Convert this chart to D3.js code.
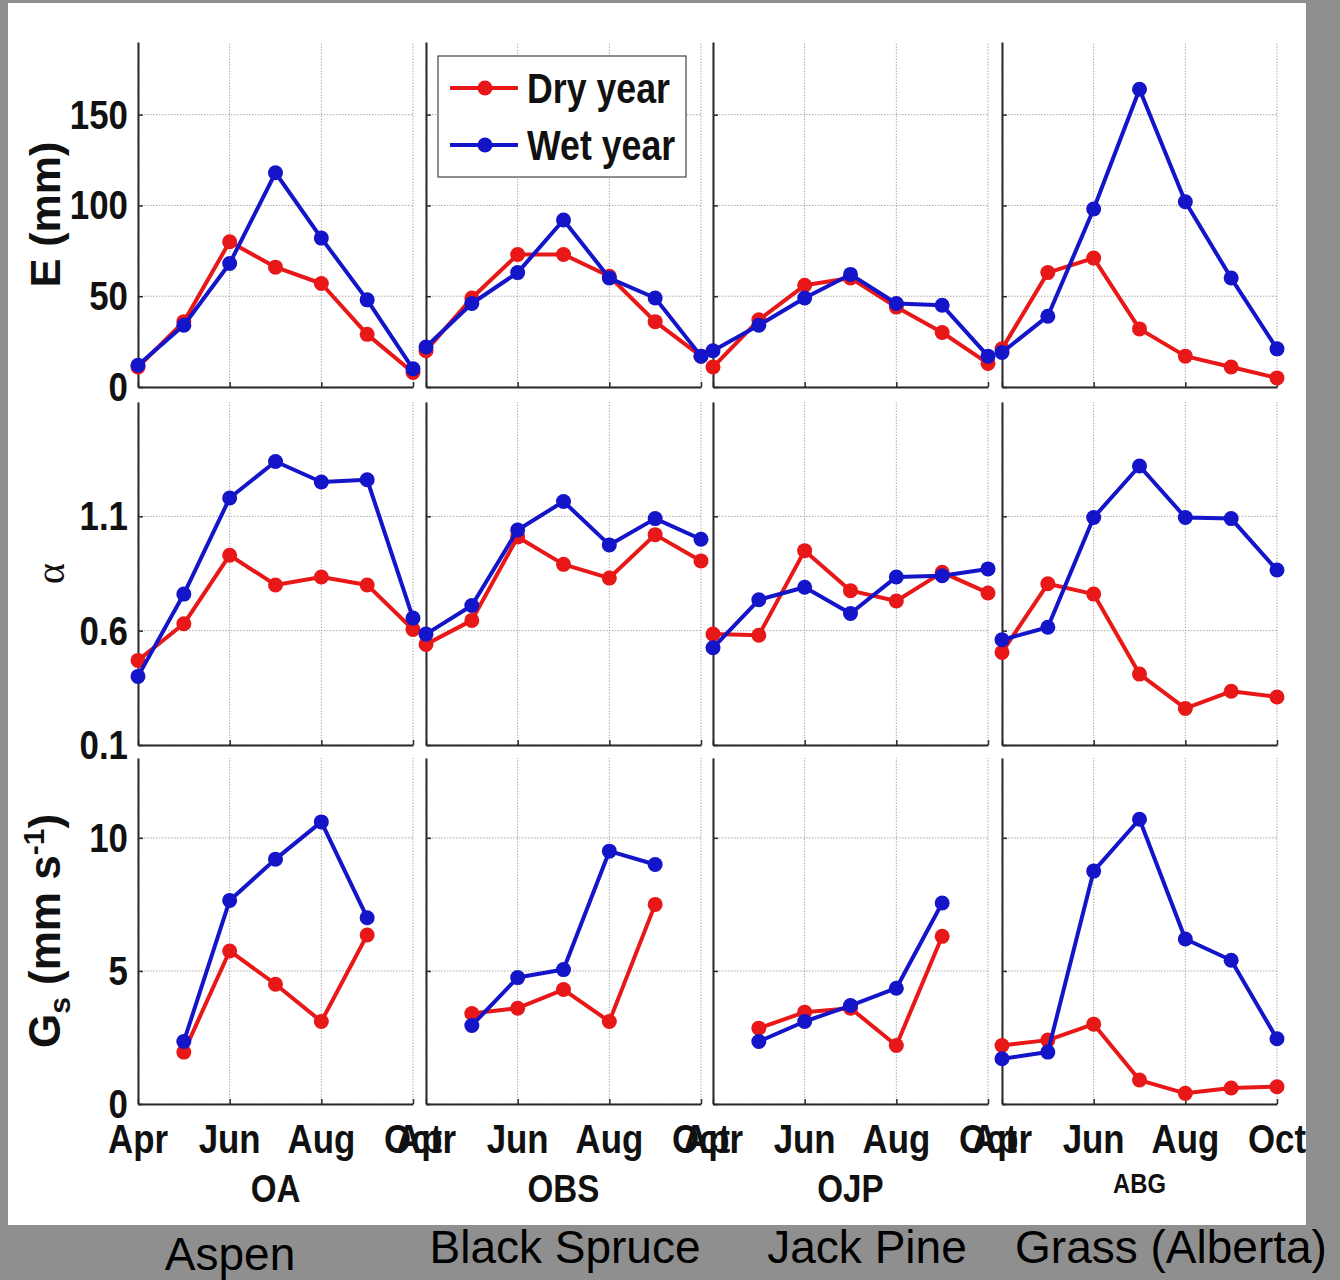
<!DOCTYPE html>
<html>
<head>
<meta charset="utf-8">
<script src="https://cdn.jsdelivr.net/npm/d3@7"></script>
<style>
body { margin: 0; background: #8f8f8f; }
svg { display: block; }
</style>
</head>
<body>
<div id="chart"></div>
<script>
// ---- data ----
var months = ["Apr", "May", "Jun", "Jul", "Aug", "Sep", "Oct"];
var monthNum = [4, 5, 6, 7, 8, 9, 10];
var xTickValues = [4, 6, 8, 10];
var xTickLabels = ["Apr", "Jun", "Aug", "Oct"];
var sites = ["OA", "OBS", "OJP", "ABG"];
var siteNames = ["Aspen", "Black Spruce", "Jack Pine", "Grass (Alberta)"];
var seriesNames = ["Dry year", "Wet year"];

// E (mm), one row per site
var eDry = [
    [11, 36, 80, 66, 57, 29, 8],
    [20, 49, 73, 73, 61, 36, 17],
    [11, 37, 56, 60, 44, 30, 13],
    [21, 63, 71, 32, 17, 11, 5]
];
var eWet = [
    [12, 34, 68, 118, 82, 48, 10],
    [22, 46, 63, 92, 60, 49, 17],
    [20, 34, 49, 62, 46, 45, 17],
    [19, 39, 98, 164, 102, 60, 21]
];
// alpha
var alphaDry = [
    [0.47, 0.63, 0.93, 0.80, 0.835, 0.80, 0.605],
    [0.54, 0.645, 1.01, 0.89, 0.83, 1.02, 0.905],
    [0.585, 0.58, 0.95, 0.775, 0.73, 0.855, 0.765],
    [0.505, 0.805, 0.76, 0.41, 0.26, 0.335, 0.31]
];
var alphaWet = [
    [0.40, 0.76, 1.18, 1.34, 1.25, 1.26, 0.655],
    [0.585, 0.71, 1.04, 1.165, 0.975, 1.09, 1.0],
    [0.525, 0.735, 0.79, 0.675, 0.835, 0.84, 0.87],
    [0.56, 0.615, 1.095, 1.32, 1.095, 1.09, 0.865]
];
// Gs (mm s-1), null = no value
var gsDry = [
    [null, 1.95, 5.75, 4.5, 3.1, 6.35, null],
    [null, 3.4, 3.6, 4.3, 3.1, 7.5, null],
    [null, 2.85, 3.45, 3.6, 2.2, 6.3, null],
    [2.2, 2.4, 3.0, 0.9, 0.4, 0.6, 0.65]
];
var gsWet = [
    [null, 2.35, 7.65, 9.2, 10.6, 7.0, null],
    [null, 2.95, 4.75, 5.05, 9.5, 9.0, null],
    [null, 2.35, 3.1, 3.7, 4.35, 7.55, null],
    [1.7, 1.95, 8.75, 10.7, 6.2, 5.4, 2.45]
];
var eTicks = [0, 50, 100, 150];
var alphaTicks = [0.1, 0.6, 1.1];
var gsTicks = [0, 5, 10];

// ---- layout ----
var W = 1340, H = 1280;
var colLeft = [138, 426, 713, 1002], colW = 275;
var rowTop = [42, 402, 758], rowBottom = [387, 745, 1104];
var red = "#e81818", blue = "#1414c8";

var rows = [
    { dry: eDry, wet: eWet, domain: [0, 190], ticks: eTicks },
    { dry: alphaDry, wet: alphaWet, domain: [0.1, 1.6], ticks: alphaTicks },
    { dry: gsDry, wet: gsWet, domain: [0, 13], ticks: gsTicks }
];

var svg = d3.select("#chart").append("svg")
    .attr("width", W)
    .attr("height", H);

svg.append("rect")
    .attr("x", 8).attr("y", 3)
    .attr("width", 1298).attr("height", 1222)
    .attr("fill", "#fff");

// bold, squeezed text like the stretched original
function narrowText(parent, x, y, str, size, anchor) {
    return parent.append("text")
        .attr("transform", "translate(" + x + "," + y + ") scale(0.85,1)")
        .attr("font-family", "'Liberation Sans', Arial, sans-serif")
        .attr("font-weight", "bold")
        .attr("font-size", size)
        .attr("text-anchor", anchor || "middle")
        .attr("fill", "#111")
        .text(str);
}

rows.forEach(function(row, r) {
    sites.forEach(function(site, c) {
        var x = d3.scaleLinear().domain([4, 10]).range([colLeft[c], colLeft[c] + colW]);
        var y = d3.scaleLinear().domain(row.domain).range([rowBottom[r], rowTop[r]]);
        var g = svg.append("g");

        // dotted grid
        g.selectAll(".hgrid").data(row.ticks).enter().append("line")
            .attr("x1", x(4)).attr("x2", x(10))
            .attr("y1", d => y(d)).attr("y2", d => y(d))
            .attr("stroke", "#aaa").attr("stroke-width", 1)
            .attr("stroke-dasharray", "1.5,1.5");
        g.selectAll(".vgrid").data(xTickValues).enter().append("line")
            .attr("x1", d => x(d)).attr("x2", d => x(d))
            .attr("y1", y(row.domain[0])).attr("y2", y(row.domain[1]))
            .attr("stroke", "#aaa").attr("stroke-width", 1)
            .attr("stroke-dasharray", "1.5,1.5");

        // axes with inward ticks
        var ax = g.append("g")
            .attr("transform", "translate(0," + rowBottom[r] + ")")
            .call(d3.axisBottom(x).tickValues(xTickValues).tickSizeInner(-5).tickSizeOuter(0).tickFormat(""));
        var ay = g.append("g")
            .attr("transform", "translate(" + colLeft[c] + ",0)")
            .call(d3.axisLeft(y).tickValues(row.ticks).tickSizeInner(-5).tickSizeOuter(0).tickFormat(""));
        [ax, ay].forEach(function(a) {
            a.select(".domain").attr("stroke", "#2a2a2a").attr("stroke-width", 2);
            a.selectAll(".tick line").attr("stroke", "#2a2a2a").attr("stroke-width", 1.5);
        });

        // y tick labels on the first column only
        if (c === 0) {
            row.ticks.forEach(function(t) {
                narrowText(svg, 128, y(t) + 14, String(t), 41, "end");
            });
        }

        // series: dry first, wet on top
        [[row.dry[c], red], [row.wet[c], blue]].forEach(function(s) {
            var vals = s[0];
            var line = d3.line()
                .defined(d => d != null)
                .x((d, i) => x(monthNum[i]))
                .y(d => y(d));
            g.append("path")
                .attr("d", line(vals))
                .attr("fill", "none")
                .attr("stroke", s[1])
                .attr("stroke-width", 4)
                .attr("stroke-linejoin", "round");
            g.selectAll(null)
                .data(vals.map((v, i) => ({ v: v, m: monthNum[i] })).filter(d => d.v != null))
                .enter().append("circle")
                .attr("cx", d => x(d.m))
                .attr("cy", d => y(d.v))
                .attr("r", 7.5)
                .attr("fill", s[1]);
        });

        // month labels and site code under the bottom row
        if (r === 2) {
            xTickValues.forEach(function(t, i) {
                narrowText(svg, x(t), 1153, xTickLabels[i], 41);
            });
            var mid = (colLeft[c] + colLeft[c] + colW) / 2;
            if (site === "ABG") narrowText(svg, mid, 1193, site, 28);
            else narrowText(svg, mid, 1202, site, 39);
        }
    });
});

// y axis titles
svg.append("text")
    .attr("transform", "translate(60," + (rowTop[0] + rowBottom[0]) / 2 + ") rotate(-90)")
    .attr("font-family", "'Liberation Sans', Arial, sans-serif")
    .attr("font-weight", "bold")
    .attr("font-size", 43)
    .attr("text-anchor", "middle")
    .attr("fill", "#111")
    .text("E (mm)");

svg.append("text")
    .attr("transform", "translate(64," + (rowTop[1] + rowBottom[1]) / 2 + ") rotate(-90)")
    .attr("font-family", "'Liberation Serif', serif")
    .attr("font-size", 40)
    .attr("text-anchor", "middle")
    .attr("fill", "#111")
    .text("\u03b1");

var gsTitle = svg.append("text")
    .attr("transform", "translate(60," + (rowTop[2] + rowBottom[2]) / 2 + ") rotate(-90)")
    .attr("font-family", "'Liberation Sans', Arial, sans-serif")
    .attr("font-weight", "bold")
    .attr("font-size", 44)
    .attr("text-anchor", "middle")
    .attr("fill", "#111");
gsTitle.append("tspan").text("G");
gsTitle.append("tspan").attr("font-size", 30).attr("dy", 10).text("s");
gsTitle.append("tspan").attr("dy", -10).text(" (mm s");
gsTitle.append("tspan").attr("font-size", 30).attr("dy", -16).text("-1");
gsTitle.append("tspan").attr("dy", 16).text(")");

// legend
var legend = svg.append("g");
legend.append("rect")
    .attr("x", 438).attr("y", 56)
    .attr("width", 248).attr("height", 121)
    .attr("fill", "#fff")
    .attr("stroke", "#444").attr("stroke-width", 1.2);
var legendRow = legend.selectAll(".legendRow")
    .data(seriesNames)
    .enter().append("g")
    .attr("transform", (d, i) => "translate(0," + (88 + i * 57) + ")");
legendRow.append("line")
    .attr("x1", 450).attr("x2", 518)
    .attr("stroke", (d, i) => i === 0 ? red : blue)
    .attr("stroke-width", 4);
legendRow.append("circle")
    .attr("cx", 485).attr("r", 7.5)
    .attr("fill", (d, i) => i === 0 ? red : blue);
legendRow.each(function(d) {
    narrowText(d3.select(this), 527, 15, d, 42, "start");
});

// site names on the grey strip
var nameX = [230, 565, 867, 1171];
var nameY = [1270, 1263, 1263, 1263];
siteNames.forEach(function(n, i) {
    svg.append("text")
        .attr("x", nameX[i]).attr("y", nameY[i])
        .attr("font-family", "'Liberation Sans', Arial, sans-serif")
        .attr("font-size", 46)
        .attr("text-anchor", "middle")
        .attr("fill", "#000")
        .text(n);
});
</script>
</body>
</html>
